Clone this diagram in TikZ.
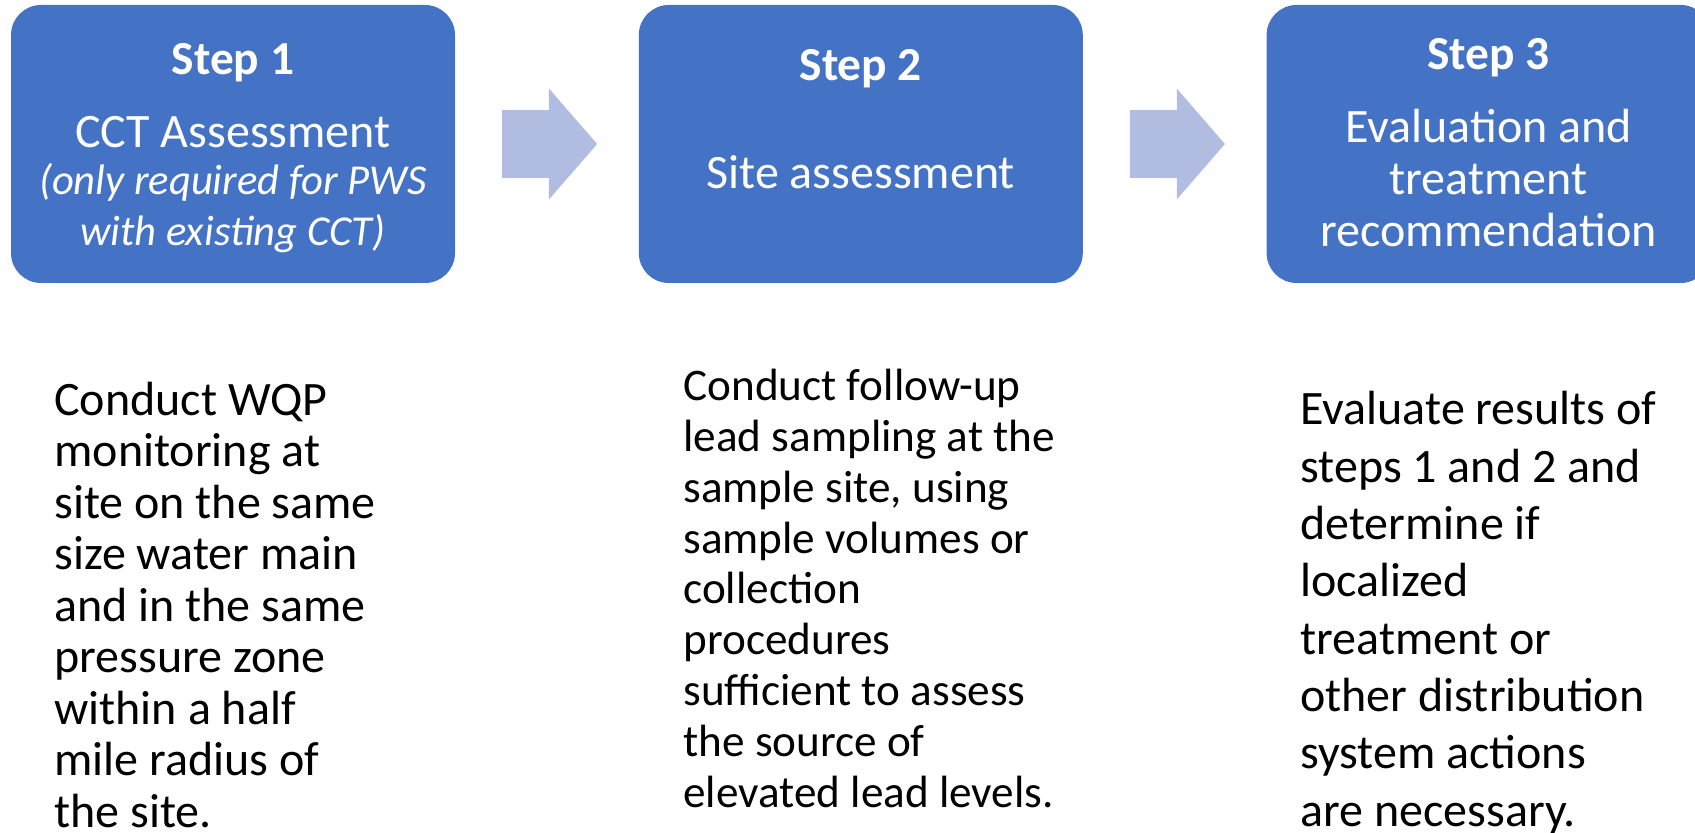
\documentclass[tikz,border=0pt]{standalone}
\usepackage{fontspec}
\setmainfont{Carlito}
\usetikzlibrary{positioning,shapes.arrows,calc}
\definecolor{stepblue}{HTML}{4472C4}
\definecolor{arrowblue}{HTML}{B0BDE0}

\begin{document}
\begin{tikzpicture}[x=0.5pt, y=-0.5pt, node distance=91.5pt]

\tikzset{
  stepbox/.style={
    rectangle, rounded corners=15pt, fill=stepblue,
    minimum width=222pt, minimum height=139pt, inner sep=0pt
  },
  steptitle/.style={text=white, anchor=base, inner sep=0pt,
    font=\fontsize{23.7}{26}\selectfont\bfseries},
  steptext/.style={text=white, anchor=base, inner sep=0pt, align=center,
    font=\fontsize{24}{26}\selectfont},
  stepnote/.style={text=white, anchor=base, inner sep=0pt, align=center,
    font=\fontsize{21.3}{25.4}\selectfont\itshape},
  flowarrow/.style={
    single arrow, fill=arrowblue, inner xsep=0pt, inner ysep=16.75pt,
    minimum height=47.5pt, minimum width=55pt,
    single arrow head extend=10.75pt, single arrow tip angle=98
  },
  detail/.style={anchor=base west, inner sep=0pt, align=left,
    font=\fontsize{24}{25.75}\selectfont}
}

\useasboundingbox (0,0) rectangle (1695,833);

% ==========================
% Step boxes (left -> right)
% ==========================
\node[stepbox] (step1) at (233,144) {};
\node[stepbox, right=of step1] (step2) {};
\node[stepbox, right=of step2] (step3) {};

% texts in the boxes (anchored on their last baseline)
\node[steptitle] (title1) at ($(step1.north)+(0,70)$) {Step 1};
\node[steptext] (name1) at ($(step1.north)+(0,143)$) {CCT Assessment};
\node[stepnote] (note1) at ($(step1.north)+(0,241)$)
{(only required for PWS\\with existing CCT)};

\node[steptitle] (title2) at ($(step2.north)+(0,76)$) {Step 2};
\node[steptext] (name2) at ($(step2.north)+(0,184)$) {Site assessment};

\node[steptitle] (title3) at ($(step3.north)+(0,65)$) {Step 3};
\node[steptext] (name3) at ($(step3.north)+(0,242)$)
{Evaluation and\\treatment\\recommendation};

% Block arrows between the boxes
\node[flowarrow] (arrow12) at ($(step1.east)!0.5!(step2.west)+(-12,0)$) {};
\node[flowarrow] (arrow23) at ($(step2.east)!0.5!(step3.west)+(-12,0)$) {};

% ==========================
% Descriptions under each step
% ==========================
\node[detail] (detail1) at (54,827)
{Conduct WQP\\monitoring at\\site on the same\\size water main\\and in the same\\pressure zone\\within a half\\mile radius of\\the site.};

\node[detail, font=\fontsize{22.6}{25.4}\selectfont] (detail2) at (683,807)
{Conduct follow-up\\lead sampling at the\\sample site, using\\sample volumes or\\collection\\procedures\\sufficient to assess\\the source of\\elevated lead levels.};

\node[detail, font=\fontsize{24}{28.65}\selectfont] (detail3) at (1300,826)
{Evaluate results of\\steps 1 and 2 and\\determine if\\localized\\treatment or\\other distribution\\system actions\\are necessary.};

\end{tikzpicture}
\end{document}
